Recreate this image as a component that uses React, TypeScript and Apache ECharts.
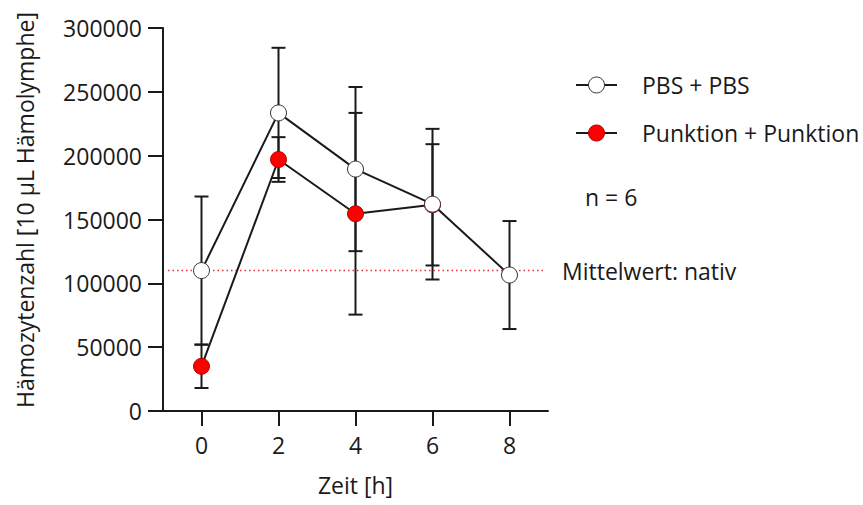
import React, { useEffect, useRef } from "react";
import * as echarts from "echarts";

const TIME_TICKS = [0, 2, 4, 6, 8];
const PBS_X = [0, 2, 4, 6, 8];
const PBS_MEAN = [110000, 233500, 189500, 162000, 106500];
const PBS_SD = [58000, 51000, 64300, 59000, 42300];
const PUNK_X = [0, 2, 4, 6];
const PUNK_MEAN = [35000, 197000, 154500, 161500];
const PUNK_SD = [17000, 17500, 79000, 47500];
const NATIV_MEAN = 110000;
const NATIV_SPAN = [-0.87, 8.93];
const Y_MIN = 0;
const Y_MAX = 300000;
const Y_STEP = 50000;
const X_MIN = -1;
const X_MAX = 9;

const FONT = "Open Sans";
const FS = 23;
const INK = "#1a1a1a";

export default function App() {
  const ref = useRef<HTMLDivElement>(null);
  useEffect(() => {
    if (!ref.current) return;
    const chart = echarts.init(ref.current, null, { renderer: "svg" });
    const errData = (xs: number[], m: number[], s: number[]) =>
      xs.map((x, i) => [x, m[i] - s[i], m[i] + s[i]]);
    const errSeries = (name: string, data: number[][]) => ({
      type: "custom",
      name,
      z: 1,
      silent: true,
      data,
      renderItem: (params: any, api: any) => {
        const x = api.value(0);
        const lo = api.coord([x, api.value(1)]);
        const hi = api.coord([x, api.value(2)]);
        const hw = 7;
        const st = { stroke: INK, lineWidth: 2 };
        return {
          type: "group",
          children: [
            { type: "line", shape: { x1: lo[0], y1: lo[1], x2: hi[0], y2: hi[1] }, style: st },
            { type: "line", shape: { x1: lo[0] - hw, y1: lo[1], x2: lo[0] + hw, y2: lo[1] }, style: st },
            { type: "line", shape: { x1: hi[0] - hw, y1: hi[1], x2: hi[0] + hw, y2: hi[1] }, style: st },
          ],
        };
      },
    });
    const txt = { fontFamily: FONT, fontSize: FS, fill: "#1a1a1a" };
    chart.setOption({
      animation: false,
      grid: { left: 163, right: 315, top: 28, bottom: 94 },
      xAxis: {
        type: "value",
        min: X_MIN,
        max: X_MAX,
        name: "Zeit [h]",
        nameLocation: "middle",
        nameGap: 62,
        nameTextStyle: { fontFamily: FONT, fontSize: FS, color: "#1a1a1a" },
        splitLine: { show: false },
        axisLine: { show: true, lineStyle: { color: INK, width: 2 } },
        axisTick: { show: true, length: 15, customValues: TIME_TICKS, lineStyle: { color: INK, width: 2 } },
        axisLabel: {
          customValues: TIME_TICKS,
          margin: 22,
          fontFamily: FONT,
          fontSize: FS,
          color: "#1a1a1a",
        },
      },
      yAxis: {
        type: "value",
        min: Y_MIN,
        max: Y_MAX,
        interval: Y_STEP,
        splitLine: { show: false },
        axisLine: { show: true, onZero: false, lineStyle: { color: INK, width: 2 } },
        axisTick: { show: true, length: 15, lineStyle: { color: INK, width: 2 } },
        axisLabel: {
          margin: 21,
          fontFamily: FONT,
          fontSize: FS,
          color: "#1a1a1a",
          formatter: (v: number) => String(v),
        },
      },
      series: [
        errSeries("err-punk", errData(PUNK_X, PUNK_MEAN, PUNK_SD)),
        errSeries("err-pbs", errData(PBS_X, PBS_MEAN, PBS_SD)),
        {
          type: "line",
          name: "Mittelwert: nativ",
          z: 1,
          silent: true,
          symbol: "none",
          data: NATIV_SPAN.map((x) => [x, NATIV_MEAN]),
          lineStyle: { color: "#e03030", width: 1.5, type: [1.5, 3] },
        },
        {
          type: "line",
          name: "Punktion + Punktion",
          z: 2,
          data: PUNK_X.map((x, i) => [x, PUNK_MEAN[i]]),
          symbol: "circle",
          symbolSize: 16,
          lineStyle: { color: INK, width: 2 },
          itemStyle: { color: "#ff0000", borderColor: "#b00000", borderWidth: 1 },
        },
        {
          type: "line",
          name: "PBS + PBS",
          z: 3,
          data: PBS_X.map((x, i) => [x, PBS_MEAN[i]]),
          symbol: "circle",
          symbolSize: 16,
          lineStyle: { color: INK, width: 2 },
          itemStyle: { color: "#ffffff", borderColor: "#333333", borderWidth: 1 },
        },
      ],
      graphic: [
        {
          type: "text",
          x: 25,
          y: 210,
          rotation: Math.PI / 2,
          style: { ...txt, text: "Hämozytenzahl [10 µL Hämolymphe]", align: "center", verticalAlign: "middle" },
        },
        { type: "line", shape: { x1: 576, y1: 85, x2: 617, y2: 85 }, style: { stroke: INK, lineWidth: 2 } },
        { type: "circle", shape: { cx: 596.5, cy: 85, r: 8 }, style: { fill: "#fff", stroke: "#333", lineWidth: 1 } },
        { type: "text", x: 642, y: 85, style: { ...txt, text: "PBS + PBS", verticalAlign: "middle" } },
        { type: "line", shape: { x1: 576, y1: 133, x2: 617, y2: 133 }, style: { stroke: INK, lineWidth: 2 } },
        { type: "circle", shape: { cx: 596.5, cy: 133, r: 8 }, style: { fill: "#ff0000", stroke: "#b00000", lineWidth: 1 } },
        { type: "text", x: 642, y: 133, style: { ...txt, text: "Punktion + Punktion", verticalAlign: "middle" } },
        { type: "text", x: 585, y: 197, style: { ...txt, text: "n = 6", verticalAlign: "middle" } },
        { type: "text", x: 562, y: 271, style: { ...txt, text: "Mittelwert: nativ", verticalAlign: "middle" } },
      ],
    });
    return () => chart.dispose();
  }, []);
  return (
    <div
      ref={ref}
      style={{ position: "fixed", left: 0, top: 0, width: 863, height: 505, background: "#fff" }}
    />
  );
}
